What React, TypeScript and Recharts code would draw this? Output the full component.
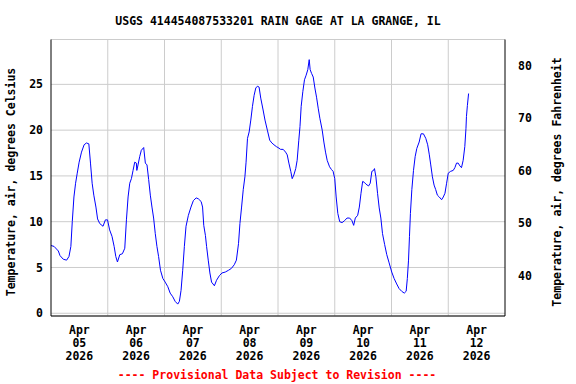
import React from 'react';
import { LineChart, Line, XAxis, YAxis, CartesianGrid, ReferenceLine } from 'recharts';

// hours since Apr 05 2026 00:00
const hours = [
  0.0, 1.3, 3.1, 3.8, 5.2, 6.6, 7.6, 8.4, 9.0, 9.7, 10.4, 11.1, 11.9, 12.9, 14.0, 15.0, 16.0, 16.7, 17.4, 18.1,
  19.0, 19.7, 20.6, 22.0, 23.0, 23.9, 24.8, 25.8, 26.7, 27.4, 28.1, 29.1, 30.2, 31.2, 31.9, 32.6, 33.3, 34.0,
  34.7, 35.4, 36.1, 36.3, 36.8, 37.5, 38.2, 39.2, 39.9, 40.6, 41.3, 42.0, 42.7, 43.4, 44.1, 44.8, 45.5, 46.3,
  47.3, 48.3, 49.4, 50.4, 51.5, 52.5, 53.6, 54.3, 55.0, 55.7, 56.4, 57.1, 58.1, 59.2, 60.2, 61.4, 62.3, 63.5,
  64.1, 64.6, 65.3, 65.8, 66.5, 67.2, 67.9, 69.1, 70.0, 71.2, 72.3, 73.7, 75.1, 76.3, 77.5, 78.4, 79.3, 79.9,
  80.6, 81.3, 82.0, 82.5, 83.1, 83.8, 84.5, 85.2, 85.9, 86.6, 87.3, 88.0, 88.7, 89.7, 90.5, 91.5, 92.5, 93.4,
  94.3, 95.3, 96.0, 97.1, 98.2, 99.2, 99.9, 100.6, 101.4, 102.0, 102.7, 103.5, 104.1, 104.8, 105.3, 105.8,
  106.5, 107.2, 107.9, 108.6, 109.2, 109.6, 110.2, 110.9, 111.6, 112.3, 113.0, 113.7, 114.7, 115.4, 116.1,
  116.8, 117.8, 118.6, 119.3, 120.0, 120.6, 121.3, 122.1, 123.1, 124.1, 125.2, 126.3, 127.3, 128.0, 128.7,
  129.7, 130.4, 131.1, 131.8, 132.5, 133.2, 134.3, 135.0, 135.7, 136.4, 136.8, 137.4, 138.1, 138.8, 139.5,
  140.2, 141.1, 142.0, 143.0, 144.1, 145.1, 146.2, 147.2, 148.3, 149.4, 150.2, 150.7, 151.2, 151.6, 152.0,
  152.6, 153.3, 154.0, 154.7, 155.7, 156.5, 157.5, 158.5, 159.3, 160.0, 160.6, 161.3, 162.0, 162.7, 163.4,
  164.2, 165.2, 165.9, 166.6, 167.3, 168.0, 169.0, 170.1, 170.8, 171.5, 172.2, 172.9, 173.6, 174.3, 175.0,
  175.5, 175.7, 176.1, 176.6,
];

const tempC = [
  7.4, 7.3, 6.8, 6.3, 5.9, 5.8, 6.2, 7.3, 10.0, 12.7, 14.2, 15.3, 16.5, 17.6, 18.4, 18.6, 18.5, 16.4, 14.2, 12.9,
  11.6, 10.3, 9.8, 9.5, 10.2, 10.2, 9.1, 8.4, 7.3, 6.2, 5.6, 6.4, 6.5, 7.1, 10.2, 12.7, 14.2, 14.7,
  15.6, 16.5, 16.4, 15.6, 16.2, 17.1, 17.8, 18.1, 16.4, 16.2, 14.6, 12.9, 11.6, 10.4, 8.7, 7.3, 6.2, 4.7,
  3.8, 3.4, 2.9, 2.2, 1.8, 1.3, 1.0, 1.3, 2.5, 4.7, 7.3, 9.5, 10.7, 11.6, 12.3, 12.6, 12.5, 12.2,
  11.6, 9.6, 8.5, 7.3, 5.8, 4.4, 3.4, 3.0, 3.6, 4.1, 4.4, 4.5, 4.7, 4.9, 5.3, 5.8, 7.6, 9.8,
  11.6, 13.5, 14.9, 16.5, 19.1, 19.8, 21.1, 22.6, 23.8, 24.6, 24.8, 24.7, 23.5, 22.2, 21.1, 20.0, 18.9, 18.6,
  18.4, 18.2, 18.1, 17.9, 17.9, 17.6, 17.3, 16.4, 15.5, 14.7, 15.1, 15.8, 16.7, 18.9, 20.4, 22.6,
  24.2, 25.5, 26.0, 26.6, 27.7, 26.6, 26.2, 25.8, 24.6, 23.6, 22.4, 21.3, 20.0, 18.7, 17.6,
  16.7, 16.0, 15.7, 15.5, 14.7, 12.7, 10.9, 10.0, 9.9, 10.1, 10.4, 10.4, 10.1, 9.6, 10.4,
  10.7, 11.6, 13.1, 14.4, 14.3, 14.1, 13.9, 14.2, 15.5, 15.6, 15.8, 14.9, 13.1, 11.5, 10.4,
  8.7, 7.5, 6.4, 5.5, 4.5, 3.8, 3.2, 2.7, 2.4, 2.2, 2.4, 3.8, 5.8, 8.4, 10.9,
  13.5, 15.6, 17.1, 18.0, 18.7, 19.6, 19.6, 19.1, 18.4, 17.3, 16.2, 14.9, 14.0, 13.5, 12.9,
  12.7, 12.4, 12.7, 13.1, 14.2, 15.3, 15.5, 15.6, 15.9, 16.4, 16.4, 16.1, 15.9, 16.7, 18.2,
  20.2, 21.5, 22.7, 24.0,
];

const monthLabel = 'Apr';
const yearLabel = '2026';
const dayLabels = ['05', '06', '07', '08', '09', '10', '11', '12'];
const labelHours = [12, 36, 60, 84, 108, 132, 156, 180];
const midnightHours = [24, 48, 72, 96, 120, 144, 168];
const celsiusTicks = [0, 5, 10, 15, 20, 25];
const fahrenheitTicks = [40, 50, 60, 70, 80];

const titleText = 'USGS 414454087533201 RAIN GAGE AT LA GRANGE, IL';
const footerText = '---- Provisional Data Subject to Revision ----';
const leftLabel = 'Temperature, air, degrees Celsius';
const rightLabel = 'Temperature, air, degrees Fahrenheit';

const data = hours.map((h, i) => ({ h, c: tempC[i] }));

const FONT = '"DejaVu Sans Mono", monospace';
const FS = 11.5;

const DateTick = (props: any) => {
  const { x, y, payload } = props;
  const i = labelHours.indexOf(payload.value);
  return (
    <text x={x} y={y} textAnchor="middle" fontFamily={FONT} fontSize={FS} fontWeight="bold" fill="#000">
      <tspan x={x} dy={9.5}>{monthLabel}</tspan>
      <tspan x={x} dy={13.3}>{dayLabels[i]}</tspan>
      <tspan x={x} dy={13.3}>{yearLabel}</tspan>
    </text>
  );
};

const tickStyle = { fontFamily: FONT, fontSize: FS, fontWeight: 'bold', fill: '#000' } as any;

export default function App() {
  return (
    <div style={{ position: 'absolute', left: 0, top: 0, width: 576, height: 384, background: '#fff' }}>
      <LineChart width={576} height={384} data={data} margin={{ top: 39.5, right: 0, bottom: 0, left: 0 }}>
        <XAxis
          xAxisId="top"
          orientation="top"
          type="number"
          dataKey="h"
          domain={[0, 192]}
          allowDataOverflow
          height={0}
          tick={false}
          tickLine={false}
          axisLine={{ stroke: '#000' }}
        />
        <XAxis
          xAxisId="main"
          type="number"
          dataKey="h"
          domain={[0, 192]}
          allowDataOverflow
          ticks={labelHours}
          height={68}
          tick={<DateTick />}
          tickLine={false}
          interval={0}
          axisLine={{ stroke: '#000' }}
        />
        <YAxis
          yAxisId="left"
          type="number"
          domain={[-0.3, 29.9]}
          allowDataOverflow
          ticks={celsiusTicks}
          width={51}
          tickLine={false}
          interval={0}
          tick={tickStyle}
          axisLine={{ stroke: '#000' }}
        />
        <YAxis
          yAxisId="right"
          orientation="right"
          type="number"
          domain={[32.3, 85.0]}
          allowDataOverflow
          ticks={fahrenheitTicks}
          width={71}
          tickLine={false}
          tickMargin={7}
          interval={0}
          tick={tickStyle}
          axisLine={{ stroke: '#000' }}
        />
        <CartesianGrid xAxisId="main" yAxisId="left" vertical={false} stroke="#cccccc" strokeWidth={1} />
        {midnightHours.map((h) => (
          <ReferenceLine key={h} xAxisId="main" yAxisId="left" x={h} stroke="#cccccc" strokeWidth={1} />
        ))}
        <Line
          xAxisId="main"
          yAxisId="left"
          type="linear"
          dataKey="c"
          stroke="#0000ff"
          strokeWidth={1}
          dot={false}
          isAnimationActive={false}
        />
      </LineChart>
      <svg width={576} height={384} style={{ position: 'absolute', left: 0, top: 0, pointerEvents: 'none' }}>
        <text x={278} y={24.5} textAnchor="middle" fontFamily={FONT} fontSize={FS} fontWeight="bold" fill="#000">
          {titleText}
        </text>
        <text x={277} y={379} textAnchor="middle" fontFamily={FONT} fontSize={FS} fontWeight="bold" fill="#ff0000">
          {footerText}
        </text>
        <text x={15} y={182} transform="rotate(-90, 15, 182)" textAnchor="middle" fontFamily={FONT} fontSize={FS} fontWeight="bold" fill="#000">
          {leftLabel}
        </text>
        <text x={561} y={182} transform="rotate(-90, 561, 182)" textAnchor="middle" fontFamily={FONT} fontSize={FS} fontWeight="bold" fill="#000">
          {rightLabel}
        </text>
      </svg>
    </div>
  );
}
